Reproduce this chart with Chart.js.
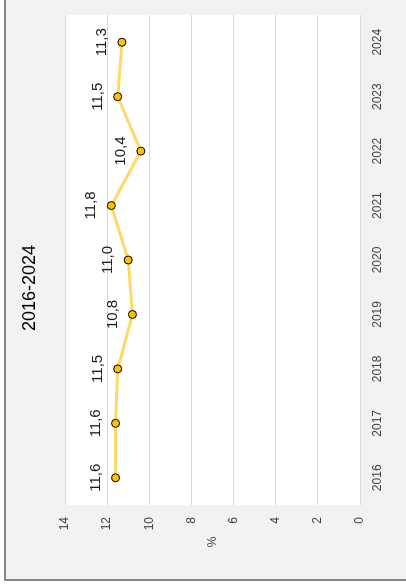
<!DOCTYPE html>
<html><head><meta charset="utf-8">
<script src="https://cdn.jsdelivr.net/npm/chart.js@4"></script>
<style>
html,body{margin:0;padding:0;background:#fff;overflow:hidden;width:406px;height:587px;}
#rot{position:absolute;left:0;top:0;width:587px;height:406px;transform-origin:0 0;transform:translate(0,587px) rotate(-90deg);overflow:hidden;}
#box{position:absolute;left:6px;top:4px;width:700px;height:500px;box-sizing:border-box;border:2px solid #888;background:#f2f2f2;}
#c{position:absolute;left:0;top:0;}
</style></head><body>
<div id="rot"><div id="box"></div><canvas id="c" width="587" height="406"></canvas></div>
<script>
const categories = ['2016','2017','2018','2019','2020','2021','2022','2023','2024'];
const values = [11.6, 11.6, 11.5, 10.8, 11.0, 11.8, 10.4, 11.5, 11.3];
const yTickValues = [0, 2, 4, 6, 8, 10, 12, 14];
const titleText = '2016-2024';
const axisTitle = '%';

Chart.defaults.font.family = "'Liberation Sans', Arial, sans-serif";

const plotBg = {
  id: 'plotBg',
  beforeDraw(chart) {
    const {ctx, chartArea: a} = chart;
    ctx.save();
    ctx.fillStyle = '#ffffff';
    ctx.fillRect(a.left, a.top, a.right - a.left, a.bottom - a.top);
    ctx.restore();
  }
};

const extraText = {
  id: 'extraText',
  afterDatasetsDraw(chart) {
    const {ctx, chartArea: a} = chart;
    const meta = chart.getDatasetMeta(0);
    ctx.save();
    ctx.fillStyle = '#1a1a1a';
    ctx.font = "15px 'Liberation Sans', Arial, sans-serif";
    ctx.textAlign = 'center';
    ctx.textBaseline = 'middle';
    meta.data.forEach((pt, i) => {
      ctx.fillText(values[i].toFixed(1).replace('.', ','), pt.x, pt.y - 20);
    });
    ctx.fillStyle = '#404040';
    ctx.font = "12px 'Liberation Sans', Arial, sans-serif";
    ctx.fillText(axisTitle, 45, (a.top + a.bottom) / 2);
    ctx.restore();
  }
};

new Chart(document.getElementById('c'), {
  type: 'line',
  data: {
    labels: categories,
    datasets: [{
      data: values,
      borderColor: '#ffd966',
      borderWidth: 3,
      backgroundColor: '#ffc000',
      pointBackgroundColor: '#ffc000',
      pointBorderColor: '#000000',
      pointBorderWidth: 1,
      pointRadius: 4,
      tension: 0,
      fill: false
    }]
  },
  options: {
    responsive: false,
    animation: false,
    devicePixelRatio: 1,
    layout: { padding: { left: 26, right: 15, top: 5, bottom: 0 } },
    plugins: {
      legend: { display: false },
      tooltip: { enabled: false },
      title: {
        display: true,
        text: titleText,
        color: '#000000',
        font: { size: 18, weight: 'normal' },
        padding: { top: 14, bottom: 24.4 }
      }
    },
    scales: {
      x: {
        type: 'category',
        offset: true,
        grid: { display: false, drawTicks: false },
        border: { display: false },
        ticks: { color: '#404040', font: { size: 12 }, padding: 10, maxRotation: 0, autoSkip: false },
        afterFit(s) { s.height = 46; }
      },
      y: {
        min: 0, max: 14,
        afterBuildTicks(s) { s.ticks = yTickValues.map(v => ({ value: v })); },
        grid: { color: '#d9d9d9', lineWidth: 1, drawTicks: false },
        border: { display: false },
        ticks: { color: '#404040', font: { size: 12 }, padding: 12, callback: v => String(v) },
        afterFit(s) { s.width = 56; }
      }
    }
  },
  plugins: [plotBg, extraText]
});
</script>
</body></html>
